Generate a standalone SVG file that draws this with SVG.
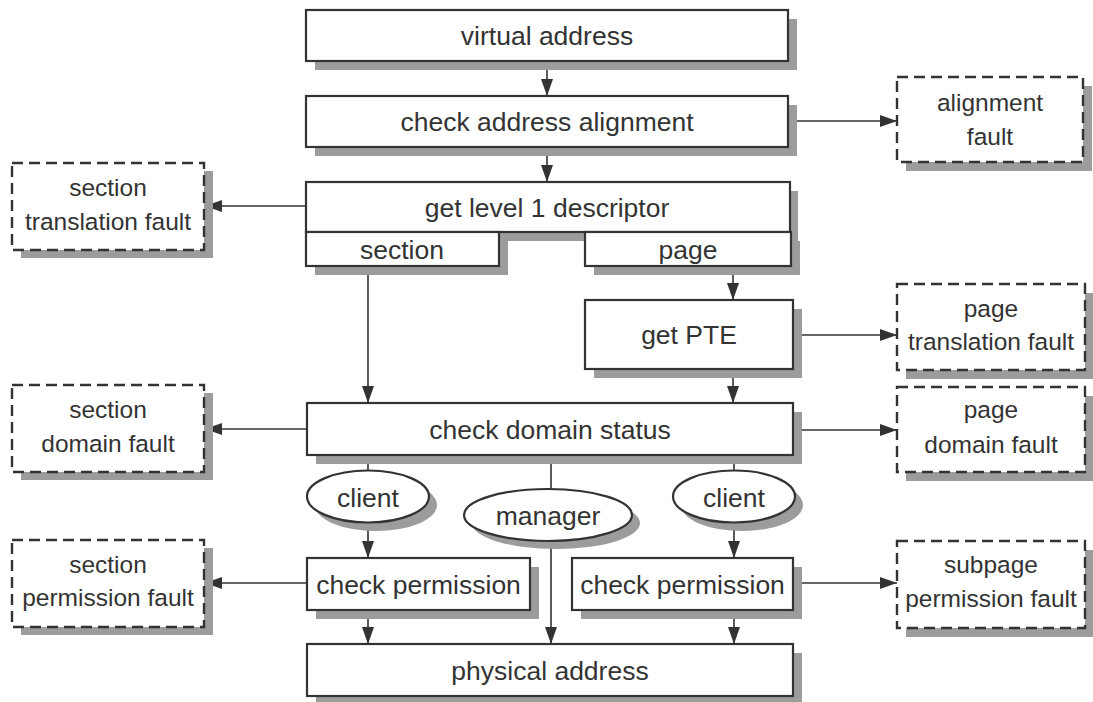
<svg xmlns="http://www.w3.org/2000/svg" width="1093" height="702" viewBox="0 0 1093 702">
<style>
.box{fill:#fff;stroke:#333;stroke-width:2.2}
.sh{fill:#9c9c9c}
.fault{fill:#fff;stroke:#333;stroke-width:2.4;stroke-dasharray:11 6}
.t{font-family:"Liberation Sans",Arial,sans-serif;font-size:26.5px;fill:#333;text-anchor:middle}
.f{font-family:"Liberation Sans",Arial,sans-serif;font-size:24.5px;fill:#333;text-anchor:middle}
.c{fill:none;stroke:#333;stroke-width:1.6}
</style>
<defs>
<marker id="ah" viewBox="0 0 17 12" refX="17" refY="6" markerWidth="17" markerHeight="12" markerUnits="userSpaceOnUse" orient="auto">
<path d="M0,0 L17,6 L0,12 Z" fill="#333"/>
</marker>
</defs>
<rect width="1093" height="702" fill="#fff"/>

<g id="connectors">
<line class="c" x1="547" y1="61" x2="547" y2="96" marker-end="url(#ah)"/>
<line class="c" x1="547" y1="147" x2="547" y2="182" marker-end="url(#ah)"/>
<line class="c" x1="788" y1="121" x2="897" y2="121" marker-end="url(#ah)"/>
<line class="c" x1="306" y1="206" x2="205" y2="206" marker-end="url(#ah)"/>
<line class="c" x1="368" y1="266" x2="368" y2="403" marker-end="url(#ah)"/>
<line class="c" x1="733" y1="266" x2="733" y2="300" marker-end="url(#ah)"/>
<line class="c" x1="793" y1="335" x2="897" y2="335" marker-end="url(#ah)"/>
<line class="c" x1="733" y1="369" x2="733" y2="403" marker-end="url(#ah)"/>
<line class="c" x1="307" y1="429" x2="205" y2="429" marker-end="url(#ah)"/>
<line class="c" x1="793" y1="430" x2="897" y2="430" marker-end="url(#ah)"/>
<line class="c" x1="368" y1="455" x2="368" y2="470"/>
<line class="c" x1="368" y1="523" x2="368" y2="558" marker-end="url(#ah)"/>
<line class="c" x1="551" y1="455" x2="551" y2="489"/>
<line class="c" x1="551" y1="541" x2="551" y2="644" marker-end="url(#ah)"/>
<line class="c" x1="734" y1="455" x2="734" y2="470"/>
<line class="c" x1="734" y1="523" x2="734" y2="558" marker-end="url(#ah)"/>
<line class="c" x1="307" y1="583" x2="205" y2="583" marker-end="url(#ah)"/>
<line class="c" x1="793" y1="583" x2="897" y2="583" marker-end="url(#ah)"/>
<line class="c" x1="368" y1="610" x2="368" y2="644" marker-end="url(#ah)"/>
<line class="c" x1="734" y1="610" x2="734" y2="644" marker-end="url(#ah)"/>
</g>

<g id="virtual-address">
<rect class="sh" x="315" y="19" width="482" height="51"/>
<rect class="box" x="306" y="10" width="482" height="51"/>
<text class="t" x="547" y="45">virtual address</text>
</g>

<g id="check-alignment">
<rect class="sh" x="315" y="105" width="482" height="51"/>
<rect class="box" x="306" y="96" width="482" height="51"/>
<text class="t" x="547" y="131">check address alignment</text>
</g>

<g id="get-level1">
<rect class="sh" x="315" y="191" width="483" height="50"/>
<rect class="sh" x="315" y="241" width="193" height="34"/>
<rect class="sh" x="594" y="241" width="206" height="34"/>
<rect class="box" x="306" y="182" width="484" height="50"/>
<text class="t" x="547" y="217">get level 1 descriptor</text>
<rect class="box" x="306" y="232" width="193" height="34"/>
<text class="t" x="402" y="258.5">section</text>
<rect class="box" x="585" y="232" width="206" height="34"/>
<text class="t" x="688" y="258.5">page</text>
</g>

<g id="get-pte">
<rect class="sh" x="594" y="309" width="208" height="69"/>
<rect class="box" x="585" y="300" width="208" height="69"/>
<text class="t" x="689" y="344">get PTE</text>
</g>

<g id="check-domain">
<rect class="sh" x="316" y="412" width="486" height="52"/>
<rect class="box" x="307" y="403" width="486" height="52"/>
<text class="t" x="550" y="438.5">check domain status</text>
</g>

<g id="client-left">
<ellipse class="sh" cx="376" cy="505" rx="61" ry="26"/>
<ellipse class="box" cx="368" cy="496.5" rx="61" ry="26"/>
<text class="t" x="368" y="507">client</text>
</g>

<g id="manager">
<ellipse class="sh" cx="556" cy="523" rx="84" ry="26"/>
<ellipse class="box" cx="548" cy="515" rx="84" ry="26"/>
<text class="t" x="548" y="524.5">manager</text>
</g>

<g id="client-right">
<ellipse class="sh" cx="742" cy="505" rx="61" ry="26"/>
<ellipse class="box" cx="734" cy="496.5" rx="61" ry="26"/>
<text class="t" x="734" y="507">client</text>
</g>

<g id="check-permission-left">
<rect class="sh" x="316" y="567" width="223" height="52"/>
<rect class="box" x="307" y="558" width="223" height="52"/>
<text class="t" x="418.5" y="593.5">check permission</text>
</g>

<g id="check-permission-right">
<rect class="sh" x="581" y="567" width="221" height="52"/>
<rect class="box" x="572" y="558" width="221" height="52"/>
<text class="t" x="682.5" y="593.5">check permission</text>
</g>

<g id="physical-address">
<rect class="sh" x="316" y="653" width="486" height="52"/>
<rect class="box" x="307" y="644" width="486" height="52"/>
<text class="t" x="550" y="679.5">physical address</text>
</g>

<g id="alignment-fault">
<rect class="sh" x="906" y="86" width="186" height="85"/>
<rect class="fault" x="897" y="77" width="186" height="85"/>
<text class="f" x="990" y="111">alignment</text>
<text class="f" x="990" y="145">fault</text>
</g>

<g id="section-translation-fault">
<rect class="sh" x="21" y="171" width="192" height="87"/>
<rect class="fault" x="12" y="163" width="192" height="87"/>
<text class="f" x="108" y="195.5">section</text>
<text class="f" x="108" y="230">translation fault</text>
</g>

<g id="page-translation-fault">
<rect class="sh" x="906" y="293" width="188" height="86"/>
<rect class="fault" x="897" y="284" width="188" height="86"/>
<text class="f" x="991" y="317">page</text>
<text class="f" x="991" y="350">translation fault</text>
</g>

<g id="section-domain-fault">
<rect class="sh" x="21" y="393" width="192" height="87"/>
<rect class="fault" x="12" y="385" width="192" height="87"/>
<text class="f" x="108" y="418">section</text>
<text class="f" x="108" y="452">domain fault</text>
</g>

<g id="page-domain-fault">
<rect class="sh" x="906" y="396" width="188" height="85"/>
<rect class="fault" x="897" y="387" width="188" height="85"/>
<text class="f" x="991" y="418">page</text>
<text class="f" x="991" y="453">domain fault</text>
</g>

<g id="section-permission-fault">
<rect class="sh" x="21" y="548" width="192" height="87"/>
<rect class="fault" x="12" y="540" width="192" height="87"/>
<text class="f" x="108" y="573">section</text>
<text class="f" x="108" y="606">permission fault</text>
</g>

<g id="subpage-permission-fault">
<rect class="sh" x="906" y="550" width="188" height="87"/>
<rect class="fault" x="897" y="541" width="188" height="87"/>
<text class="f" x="991" y="573">subpage</text>
<text class="f" x="991" y="607">permission fault</text>
</g>
</svg>
